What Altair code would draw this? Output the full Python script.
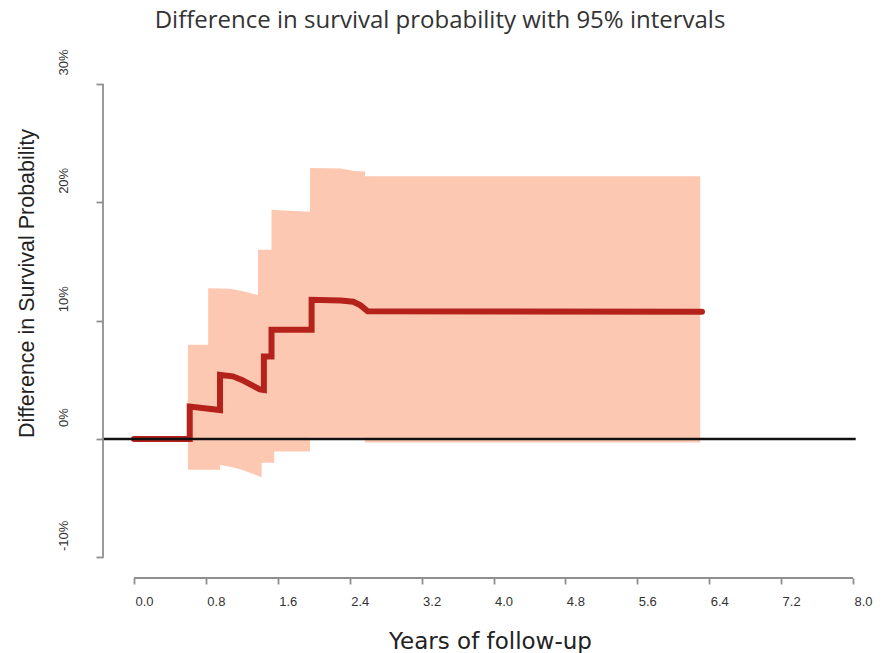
import altair as alt
import pandas as pd

# ---- data (years, percent) ----
line_years = [0.0, 0.62, 0.62, 0.957, 0.957, 1.10, 1.20, 1.30, 1.40, 1.445, 1.445, 1.53, 1.53,
              1.976, 1.976, 2.30, 2.44, 2.52, 2.60, 6.32]
line_diff = [0.0, 0.0, 2.75, 2.45, 5.42, 5.30, 5.0, 4.6, 4.2, 4.15, 6.97, 6.97, 9.23,
             9.23, 11.76, 11.7, 11.6, 11.3, 10.8, 10.75]

band_years = [0.60, 0.825, 0.825, 0.957, 0.957, 1.07, 1.20, 1.38, 1.38, 1.42, 1.42, 1.53, 1.53,
              1.56, 1.56, 1.958, 1.958, 2.30, 2.45, 2.57, 2.57, 6.30]
band_lower = [-2.6, -2.6, -2.6, -2.6, -2.2, -2.35, -2.6, -3.1, -3.1, -3.25, -2.0, -2.0, -2.0,
              -2.0, -1.05, -1.05, 0.1, 0.1, 0.1, 0.1, -0.3, -0.3]
band_upper = [7.96, 7.96, 12.75, 12.72, 12.72, 12.7, 12.5, 12.18, 16.0, 16.0, 16.0, 16.0, 19.37,
              19.35, 19.35, 19.2, 22.9, 22.85, 22.65, 22.6, 22.2, 22.2]

x_ticks = [0.0, 0.8, 1.6, 2.4, 3.2, 4.0, 4.8, 5.6, 6.4, 7.2, 8.0]
y_ticks = [-10, 0, 10, 20, 30]

X_DOMAIN = [-0.345, 8.0]
Y_DOMAIN = [-11.74, 30.0]
ZERO_LINE_X = [-0.345, 8.03]

RED = "#b5221b"
BAND = "#fcc8b2"
AXIS_GRAY = "#8f8f8f"

band_df = pd.DataFrame({"year": band_years, "pct": band_lower, "pct2": band_upper})
line_df = pd.DataFrame({"year": line_years, "pct": line_diff, "i": list(range(len(line_years)))})
zero_df = pd.DataFrame({"year": [ZERO_LINE_X[0]], "year2": [ZERO_LINE_X[1]], "pct": [0.0]})
xaxis_df = pd.DataFrame({"year": [x_ticks[0]], "year2": [x_ticks[-1]], "pct": [Y_DOMAIN[0]]})
yaxis_df = pd.DataFrame({"year": [X_DOMAIN[0]], "pct": [y_ticks[0]], "pct2": [y_ticks[-1]]})

xscale = alt.Scale(domain=X_DOMAIN, nice=False, zero=False)
yscale = alt.Scale(domain=Y_DOMAIN, nice=False, zero=False)

x_axis = alt.Axis(values=x_ticks, labelExpr="format(datum.value, '.1f')", domain=False, grid=False,
                  tickSize=6, tickColor=AXIS_GRAY, tickWidth=1.8,
                  labelFont="Liberation Sans", labelFontSize=13, labelColor="#333333",
                  labelPadding=11, labelOffset=10, labelFlush=False, labelOverlap=False,
                  title="Years of follow-up", titleFont="DejaVu Sans", titleFontSize=23,
                  titleFontWeight="normal", titleColor="#222222", titleBaseline="alphabetic",
                  titleY=70, titleX=387, titleAlign="center")
y_axis = alt.Axis(values=y_ticks, labelExpr="datum.value + '%'", domain=False, grid=False,
                  tickSize=7, tickColor=AXIS_GRAY, tickWidth=1.8,
                  labelAngle=270, labelAlign="center", labelBaseline="bottom",
                  labelPadding=26, labelOffset=-22,
                  labelFont="Liberation Sans", labelFontSize=13, labelColor="#333333",
                  labelFlush=False, labelOverlap=False,
                  title="Difference in Survival Probability", titleFont="Liberation Sans",
                  titleFontSize=21.5, titleFontWeight="normal", titleColor="#222222",
                  titleAngle=270, titleAlign="center", titleBaseline="alphabetic",
                  titleX=-70, titleY=199)

X = alt.X("year:Q", scale=xscale, axis=x_axis)
Y = alt.Y("pct:Q", scale=yscale, axis=y_axis, stack=None)

band = alt.Chart(band_df).mark_area(color=BAND, opacity=1, interpolate="linear").encode(
    x=X, y=Y, y2="pct2:Q")
line = alt.Chart(line_df).mark_line(color=RED, strokeWidth=6, strokeCap="round",
                                    strokeJoin="miter").encode(x=X, y=Y, order="i:Q")
zero = alt.Chart(zero_df).mark_rule(color="#111111", strokeWidth=2.5).encode(
    x=X, x2="year2:Q", y=Y)
xaxis_line = alt.Chart(xaxis_df).mark_rule(color=AXIS_GRAY, strokeWidth=1.8).encode(
    x=X, x2="year2:Q", y=Y)
yaxis_line = alt.Chart(yaxis_df).mark_rule(color=AXIS_GRAY, strokeWidth=1.8).encode(
    x=X, y=Y, y2="pct2:Q")

chart = alt.layer(band, line, zero, xaxis_line, yaxis_line).properties(
    width=750, height=494,
    padding={"left": 103, "top": 84, "right": 32, "bottom": 75},
    autosize=alt.AutoSizeParams(type="none"),
    background="white",
    title=alt.TitleParams("Difference in survival probability with 95% intervals",
                          font="Open Sans", fontSize=24, fontWeight="normal", color="#333333",
                          anchor="middle", dx=-38, dy=22, offset=19, baseline="alphabetic"),
).configure_view(stroke=None)

chart.save("out.html", embed_options={"renderer": "svg", "actions": False})
